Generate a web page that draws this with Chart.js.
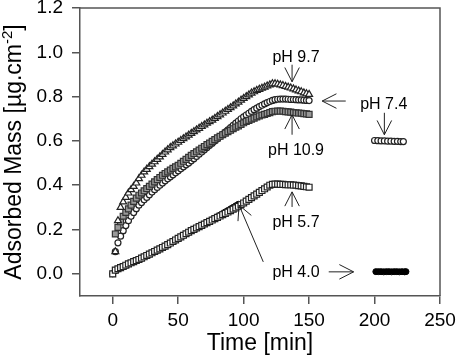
<!DOCTYPE html>
<html>
<head>
<meta charset="utf-8">
<script src="https://cdn.jsdelivr.net/npm/chart.js@4.4.0/dist/chart.umd.min.js"></script>
<style>
  body { margin: 0; background: #fff; }
  canvas { display: block; }
</style>
</head>
<body>
<canvas id="myChart" width="456" height="356"></canvas>
<script>
// Data

const xTicks = [0, 50, 100, 150, 200, 250];
const yTicks = [0.0, 0.2, 0.4, 0.6, 0.8, 1.0, 1.2];

// times [min] for the three fast curves (pH 9.7, 10.9, 7.4)
const timeFast = [2, 4, 6, 8, 10, 12, 14, 16, 18, 20, 22, 24, 26, 28, 30, 32, 34, 36, 38, 40,
  42, 44, 46, 48, 50, 52, 54, 56, 58, 60, 62, 64, 66, 68, 70, 72, 74, 76, 78, 80,
  82, 84, 86, 88, 90, 92, 94, 96, 98, 100, 102, 104, 106, 108, 110, 112, 114, 116, 118, 120,
  122, 124, 126, 128, 130, 132, 134, 136, 138, 140, 142, 144, 146, 148, 150];

const mass97 = [0.10, 0.24, 0.30, 0.325, 0.345, 0.365, 0.38, 0.395, 0.41, 0.43,
  0.445, 0.46, 0.472, 0.484, 0.495, 0.506, 0.517, 0.528, 0.539, 0.55,
  0.56, 0.57, 0.578, 0.586, 0.594, 0.602, 0.61, 0.618, 0.626, 0.634,
  0.642, 0.65, 0.657, 0.665, 0.672, 0.68, 0.687, 0.694, 0.702, 0.71,
  0.718, 0.726, 0.734, 0.742, 0.75, 0.758, 0.767, 0.775, 0.784, 0.792,
  0.80, 0.808, 0.816, 0.822, 0.828, 0.833, 0.838, 0.843, 0.848, 0.853,
  0.858, 0.858, 0.856, 0.853, 0.85, 0.846, 0.843, 0.839, 0.835, 0.83,
  0.826, 0.822, 0.817, 0.813, 0.81];

const mass109 = [0.18, 0.21, 0.235, 0.26, 0.277, 0.293, 0.31, 0.327, 0.342, 0.355,
  0.365, 0.375, 0.385, 0.395, 0.405, 0.415, 0.425, 0.435, 0.445, 0.453,
  0.46, 0.468, 0.476, 0.483, 0.49, 0.499, 0.508, 0.517, 0.526, 0.535,
  0.543, 0.551, 0.559, 0.567, 0.575, 0.583, 0.59, 0.598, 0.606, 0.614,
  0.621, 0.628, 0.635, 0.642, 0.648, 0.655, 0.662, 0.668, 0.675, 0.682,
  0.688, 0.693, 0.698, 0.703, 0.708, 0.713, 0.717, 0.72, 0.724, 0.728,
  0.732, 0.734, 0.735, 0.735, 0.734, 0.732, 0.731, 0.73, 0.728, 0.727,
  0.726, 0.725, 0.723, 0.722, 0.72];

const mass74 = [0.10, 0.14, 0.17, 0.195, 0.218, 0.24, 0.26, 0.277, 0.294, 0.31,
  0.322, 0.334, 0.345, 0.357, 0.369, 0.38, 0.39, 0.40, 0.41, 0.42,
  0.429, 0.438, 0.447, 0.456, 0.465, 0.474, 0.483, 0.492, 0.50, 0.51,
  0.52, 0.53, 0.54, 0.55, 0.56, 0.57, 0.58, 0.59, 0.60, 0.61,
  0.62, 0.63, 0.64, 0.65, 0.66, 0.67, 0.68, 0.69, 0.70, 0.709,
  0.717, 0.725, 0.733, 0.741, 0.748, 0.755, 0.761, 0.767, 0.773, 0.778,
  0.783, 0.786, 0.788, 0.789, 0.789, 0.789, 0.788, 0.787, 0.787, 0.786,
  0.785, 0.785, 0.784, 0.783, 0.782];

// second pH 7.4 stretch
const timeLate74 = [200, 202.5, 205, 207.5, 210, 212.5, 215, 217.5, 220, 222];
const massLate74 = [0.602, 0.601, 0.600, 0.600, 0.599, 0.599, 0.598, 0.598, 0.597, 0.597];

// slow curves (pH 5.7 and 4.0)
const timeSlow = [0, 2, 4, 6, 8, 10, 12, 14, 16, 18, 20, 22, 24, 26, 28, 30, 32, 34, 36, 38,
  40, 42, 44, 46, 48, 50, 52, 54, 56, 58, 60, 62, 64, 66, 68, 70, 72, 74, 76, 78,
  80, 82, 84, 86, 88, 90, 92, 94, 96, 98, 100, 102, 104, 106, 108, 110, 112, 114, 116, 118,
  120, 122, 124, 126, 128, 130, 132, 134, 136, 138, 140, 142, 144, 146, 148, 150];

const mass57 = [0.0, 0.017, 0.023, 0.028, 0.033, 0.039, 0.045, 0.05, 0.055, 0.06,
  0.065, 0.071, 0.077, 0.083, 0.089, 0.095, 0.101, 0.107, 0.113, 0.119,
  0.125, 0.132, 0.139, 0.146, 0.153, 0.16, 0.167, 0.174, 0.181, 0.188,
  0.195, 0.201, 0.207, 0.213, 0.219, 0.225, 0.231, 0.237, 0.243, 0.249,
  0.255, 0.261, 0.267, 0.273, 0.279, 0.285, 0.292, 0.298, 0.305, 0.312,
  0.32, 0.328, 0.336, 0.344, 0.352, 0.36, 0.368, 0.376, 0.384, 0.392,
  0.40, 0.404, 0.405, 0.405, 0.404, 0.404, 0.403, 0.402, 0.402, 0.401,
  0.40, 0.398, 0.397, 0.395, 0.393, 0.391];

const time40 = [0, 2, 4, 6, 8, 10, 12, 14, 16, 18, 20, 22, 24, 26, 28, 30, 32, 34, 36, 38,
  40, 42, 44, 46, 48, 50, 52, 54, 56, 58, 60, 62, 64, 66, 68, 70, 72, 74, 76, 78,
  80, 82, 84, 86, 88, 90, 92, 94, 96];
const mass40 = [0.0, 0.014, 0.021, 0.027, 0.032, 0.038, 0.044, 0.049, 0.054, 0.059,
  0.064, 0.07, 0.076, 0.082, 0.088, 0.094, 0.1, 0.106, 0.112, 0.118,
  0.124, 0.131, 0.138, 0.145, 0.152, 0.159, 0.166, 0.173, 0.18, 0.187,
  0.194, 0.2, 0.206, 0.212, 0.218, 0.225, 0.231, 0.238, 0.244, 0.251,
  0.258, 0.265, 0.272, 0.279, 0.286, 0.293, 0.3, 0.307, 0.314];

const timeLate40 = [201, 203, 205, 207, 209, 211, 213, 215, 217, 219, 221, 223, 224];
const massLate40 = [0.010, 0.010, 0.010, 0.009, 0.010, 0.010, 0.009, 0.010, 0.010, 0.009,
  0.010, 0.009, 0.010];

// annotations: arrows (tail -> tip) and labels, in data units
const arrows = [
  { from: [137, 0.944], to: [137, 0.867] },
  { from: [137, 0.628], to: [137, 0.718] },
  { from: [178, 0.78], to: [160, 0.78] },
  { from: [207.5, 0.727], to: [207.5, 0.628] },
  { from: [137, 0.302], to: [137, 0.37] },
  { from: [165, 0.009], to: [184, 0.009] },
  { from: [115, 0.054], to: [96.5, 0.31] }
];
const notes = [
  { text: "pH 9.7", at: [140, 0.957] },
  { text: "pH 10.9", at: [140, 0.537] },
  { text: "pH 7.4", at: [207, 0.745] },
  { text: "pH 5.7", at: [140, 0.212] },
  { text: "pH 4.0", at: [140, -0.014] }
];

const fam = "'Liberation Sans', Arial, sans-serif";

function pts(xs, ys) {
  return xs.map((x, i) => ({ x: x, y: ys[i] }));
}

// white background, frame, titles and annotations
const extras = {
  id: "extras",
  beforeDraw(chart) {
    const c = chart.ctx;
    c.save();
    c.fillStyle = "#fff";
    c.fillRect(0, 0, chart.width, chart.height);
    c.restore();
  },
  afterDraw(chart) {
    const c = chart.ctx;
    const a = chart.chartArea;
    const sx = chart.scales.x, sy = chart.scales.y;
    c.save();
    // top + right border
    c.strokeStyle = "#555";
    c.lineWidth = 1.5;
    c.beginPath();
    c.moveTo(a.left, a.top);
    c.lineTo(a.right, a.top);
    c.lineTo(a.right, a.bottom);
    c.stroke();

    // arrows
    c.strokeStyle = "#222";
    c.lineWidth = 1;
    arrows.forEach(ar => {
      const x1 = sx.getPixelForValue(ar.from[0]), y1 = sy.getPixelForValue(ar.from[1]);
      const x2 = sx.getPixelForValue(ar.to[0]), y2 = sy.getPixelForValue(ar.to[1]);
      const ang = Math.atan2(y1 - y2, x1 - x2);
      const len = 16, spread = 27 * Math.PI / 180;
      c.beginPath();
      c.moveTo(x1, y1);
      c.lineTo(x2, y2);
      c.moveTo(x2 + len * Math.cos(ang - spread), y2 + len * Math.sin(ang - spread));
      c.lineTo(x2, y2);
      c.lineTo(x2 + len * Math.cos(ang + spread), y2 + len * Math.sin(ang + spread));
      c.stroke();
    });

    // labels
    c.fillStyle = "#000";
    c.font = "16px " + fam;
    c.textAlign = "center";
    c.textBaseline = "alphabetic";
    notes.forEach(n => {
      c.fillText(n.text, sx.getPixelForValue(n.at[0]), sy.getPixelForValue(n.at[1]));
    });

    // x title
    c.font = "23px " + fam;
    c.fillText("Time [min]", (a.left + a.right) / 2, 350);

    // y title with superscript
    c.translate(21, (a.top + a.bottom) / 2);
    c.rotate(-Math.PI / 2);
    c.textAlign = "left";
    const main = "Adsorbed Mass [µg.cm", sup = "-2", end = "]";
    c.font = "23px " + fam;
    const w1 = c.measureText(main).width, w3 = c.measureText(end).width;
    c.font = "15px " + fam;
    const w2 = c.measureText(sup).width;
    const x0 = -(w1 + w2 + w3) / 2;
    c.font = "23px " + fam;
    c.fillText(main, x0, 0);
    c.font = "15px " + fam;
    c.fillText(sup, x0 + w1, -9);
    c.font = "23px " + fam;
    c.fillText(end, x0 + w1 + w2, 0);
    c.restore();
  }
};

const ctx = document.getElementById("myChart");
const myChart = new Chart(ctx, {
  type: "scatter",
  data: {
    datasets: [
      {
        label: "pH 9.7",
        data: pts(timeFast, mass97),
        pointStyle: "triangle",
        pointRadius: 4,
        backgroundColor: "#fff",
        borderColor: "#222",
        borderWidth: 1.2
      },
      {
        label: "pH 10.9",
        data: pts(timeFast, mass109),
        pointStyle: "rect",
        pointRadius: 4.2,
        backgroundColor: "#999",
        borderColor: "#333",
        borderWidth: 1.2
      },
      {
        label: "pH 7.4",
        data: pts(timeFast, mass74).concat(pts(timeLate74, massLate74)),
        pointStyle: "circle",
        pointRadius: 3,
        backgroundColor: "#fff",
        borderColor: "#222",
        borderWidth: 1.2
      },
      {
        label: "pH 5.7",
        data: pts(timeSlow, mass57),
        pointStyle: "rect",
        pointRadius: 4.2,
        backgroundColor: "#fff",
        borderColor: "#222",
        borderWidth: 1.2
      },
      {
        label: "pH 4.0",
        data: pts(time40, mass40).concat(pts(timeLate40, massLate40)),
        pointStyle: "circle",
        pointRadius: 3,
        backgroundColor: "#000",
        borderColor: "#000",
        borderWidth: 1
      }
    ]
  },
  options: {
    responsive: false,
    animation: false,
    layout: { padding: { top: 8, right: 16, left: 0, bottom: 0 } },
    plugins: {
      legend: { display: false },
      tooltip: { enabled: false }
    },
    scales: {
      x: {
        type: "linear",
        min: -25,
        max: 250,
        afterBuildTicks: s => { s.ticks = xTicks.map(v => ({ value: v })); },
        afterFit: s => { s.height = 60; s.paddingLeft = 0; s.paddingRight = 0; },
        grid: { drawOnChartArea: false, drawTicks: true, tickLength: 8, color: "#555", lineWidth: 1.5 },
        border: { display: true, color: "#555", width: 1.5 },
        ticks: { color: "#000", font: { size: 19, family: fam }, padding: 5, maxRotation: 0 }
      },
      y: {
        type: "linear",
        min: -0.1,
        max: 1.2,
        afterBuildTicks: s => { s.ticks = yTicks.map(v => ({ value: v })); },
        afterFit: s => { s.width = 80; s.paddingTop = 0; s.paddingBottom = 0; },
        grid: { drawOnChartArea: false, drawTicks: true, tickLength: 8, color: "#555", lineWidth: 1.5 },
        border: { display: true, color: "#555", width: 1.5 },
        ticks: {
          color: "#000",
          font: { size: 19, family: fam },
          padding: 9,
          callback: v => v.toFixed(1)
        }
      }
    }
  },
  plugins: [extras]
});
</script>
</body>
</html>
